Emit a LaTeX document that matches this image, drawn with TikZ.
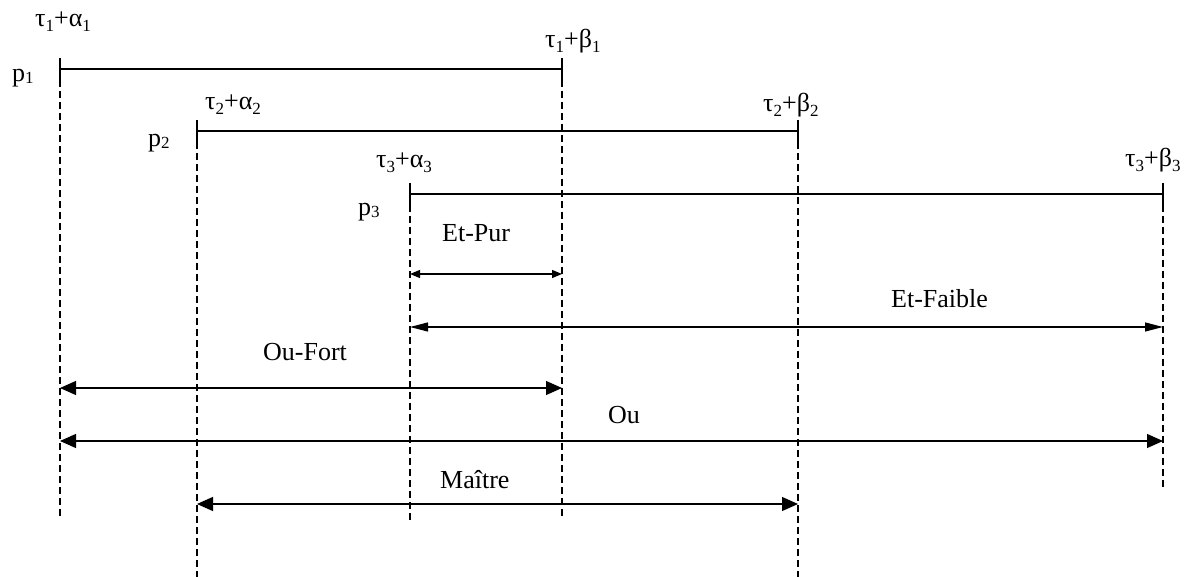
\documentclass[tikz,border=0pt]{standalone}
\usepackage{fontspec}
\setmainfont{Liberation Serif}
\usetikzlibrary{arrows.meta,calc}
\newcommand{\sbx}[1]{\raisebox{-5pt}{\fontsize{17}{17}\selectfont #1}}
\newcommand{\sbp}[1]{\raisebox{-2pt}{\fontsize{17}{17}\selectfont #1}}
\begin{document}
\begin{tikzpicture}[x=1pt,y=-1pt,
  lbl/.style={inner sep=0pt, anchor=base west, font=\fontsize{26}{26}\selectfont},
  period/.style={line width=1.6pt},
  guide/.style={line width=1.3pt, dash pattern=on 7pt off 4pt},
  tickmark/.style={line width=1.3pt},
  spanA/.style={line width=1.2pt, {Triangle[length=10pt,width=8pt]}-{Triangle[length=10pt,width=8pt]}},
  spanB/.style={line width=1.2pt, {Triangle[length=18pt,width=9pt]}-{Triangle[length=18pt,width=9pt]}},
  spanC/.style={line width=1.2pt, {Triangle[length=16pt,width=14pt]}-{Triangle[length=16pt,width=14pt]}}]
\useasboundingbox (0,0) rectangle (1189,577);

% period endpoints
\coordinate (a1) at (60,69);   \coordinate (b1) at (562,69);
\coordinate (a2) at (197,131); \coordinate (b2) at (798,131);
\coordinate (a3) at (410,194); \coordinate (b3) at (1163,194);
% tick tops / bottoms
\foreach \n in {a1,b1,a2,b2,a3,b3}{
  \coordinate (\n t) at ($(\n)+(0,-11)$);
  \coordinate (\n s) at ($(\n)+(0,11)$);
}
% guide ends
\coordinate (a1e) at (60,518);  \coordinate (b1e) at (562,518);
\coordinate (a2e) at (197,577); \coordinate (b2e) at (798,577);
\coordinate (a3e) at (410,521); \coordinate (b3e) at (1163,490);

% periods
\draw[period] (a1) -- (b1);
\draw[period] (a2) -- (b2);
\draw[period] (a3) -- (b3);
% ticks and guides
\foreach \n in {a1,b1,a2,b2,a3,b3}{
  \draw[tickmark] (\n t) -- (\n s);
  \draw[guide] (\n) -- (\n e);
}

% labels
\node[lbl] (la1) at (35,27)   {τ\sbx{1}+α\sbx{1}};
\node[lbl] (lb1) at (545,48)  {τ\sbx{1}+β\sbx{1}};
\node[lbl] (la2) at (205,110) {τ\sbx{2}+α\sbx{2}};
\node[lbl] (lb2) at (763,112) {τ\sbx{2}+β\sbx{2}};
\node[lbl] (la3) at (376,168) {τ\sbx{3}+α\sbx{3}};
\node[lbl] (lb3) at (1125,167){τ\sbx{3}+β\sbx{3}};
\node[lbl] (p1) at (12,82)  {p\sbp{1}};
\node[lbl] (p2) at (148,147) {p\sbp{2}};
\node[lbl] (p3) at (358,216) {p\sbp{3}};

% relation spans
\coordinate (ep1) at (410,274);  \coordinate (ep2) at (562,274);
\coordinate (ef1) at (410,327);  \coordinate (ef2) at (1163,327);
\coordinate (of1) at (60,388);   \coordinate (of2) at (562,388);
\coordinate (ou1) at (60,441);   \coordinate (ou2) at (1163,441);
\coordinate (ma1) at (197,504);  \coordinate (ma2) at (798,504);

\draw[spanA] (ep1) -- (ep2);
\draw[spanB] (ef1) -- (ef2);
\draw[spanC] (of1) -- (of2);
\draw[spanC] (ou1) -- (ou2);
\draw[spanC] (ma1) -- (ma2);

\node[lbl] (tep) at (442,242) {Et-Pur};
\node[lbl] (tef) at (891,308) {Et-Faible};
\node[lbl] (tof) at (263,360) {Ou-Fort};
\node[lbl, anchor=base] (tou) at (624,423) {Ou};
\node[lbl] (tma) at (440,488) {Maître};
\end{tikzpicture}
\end{document}
